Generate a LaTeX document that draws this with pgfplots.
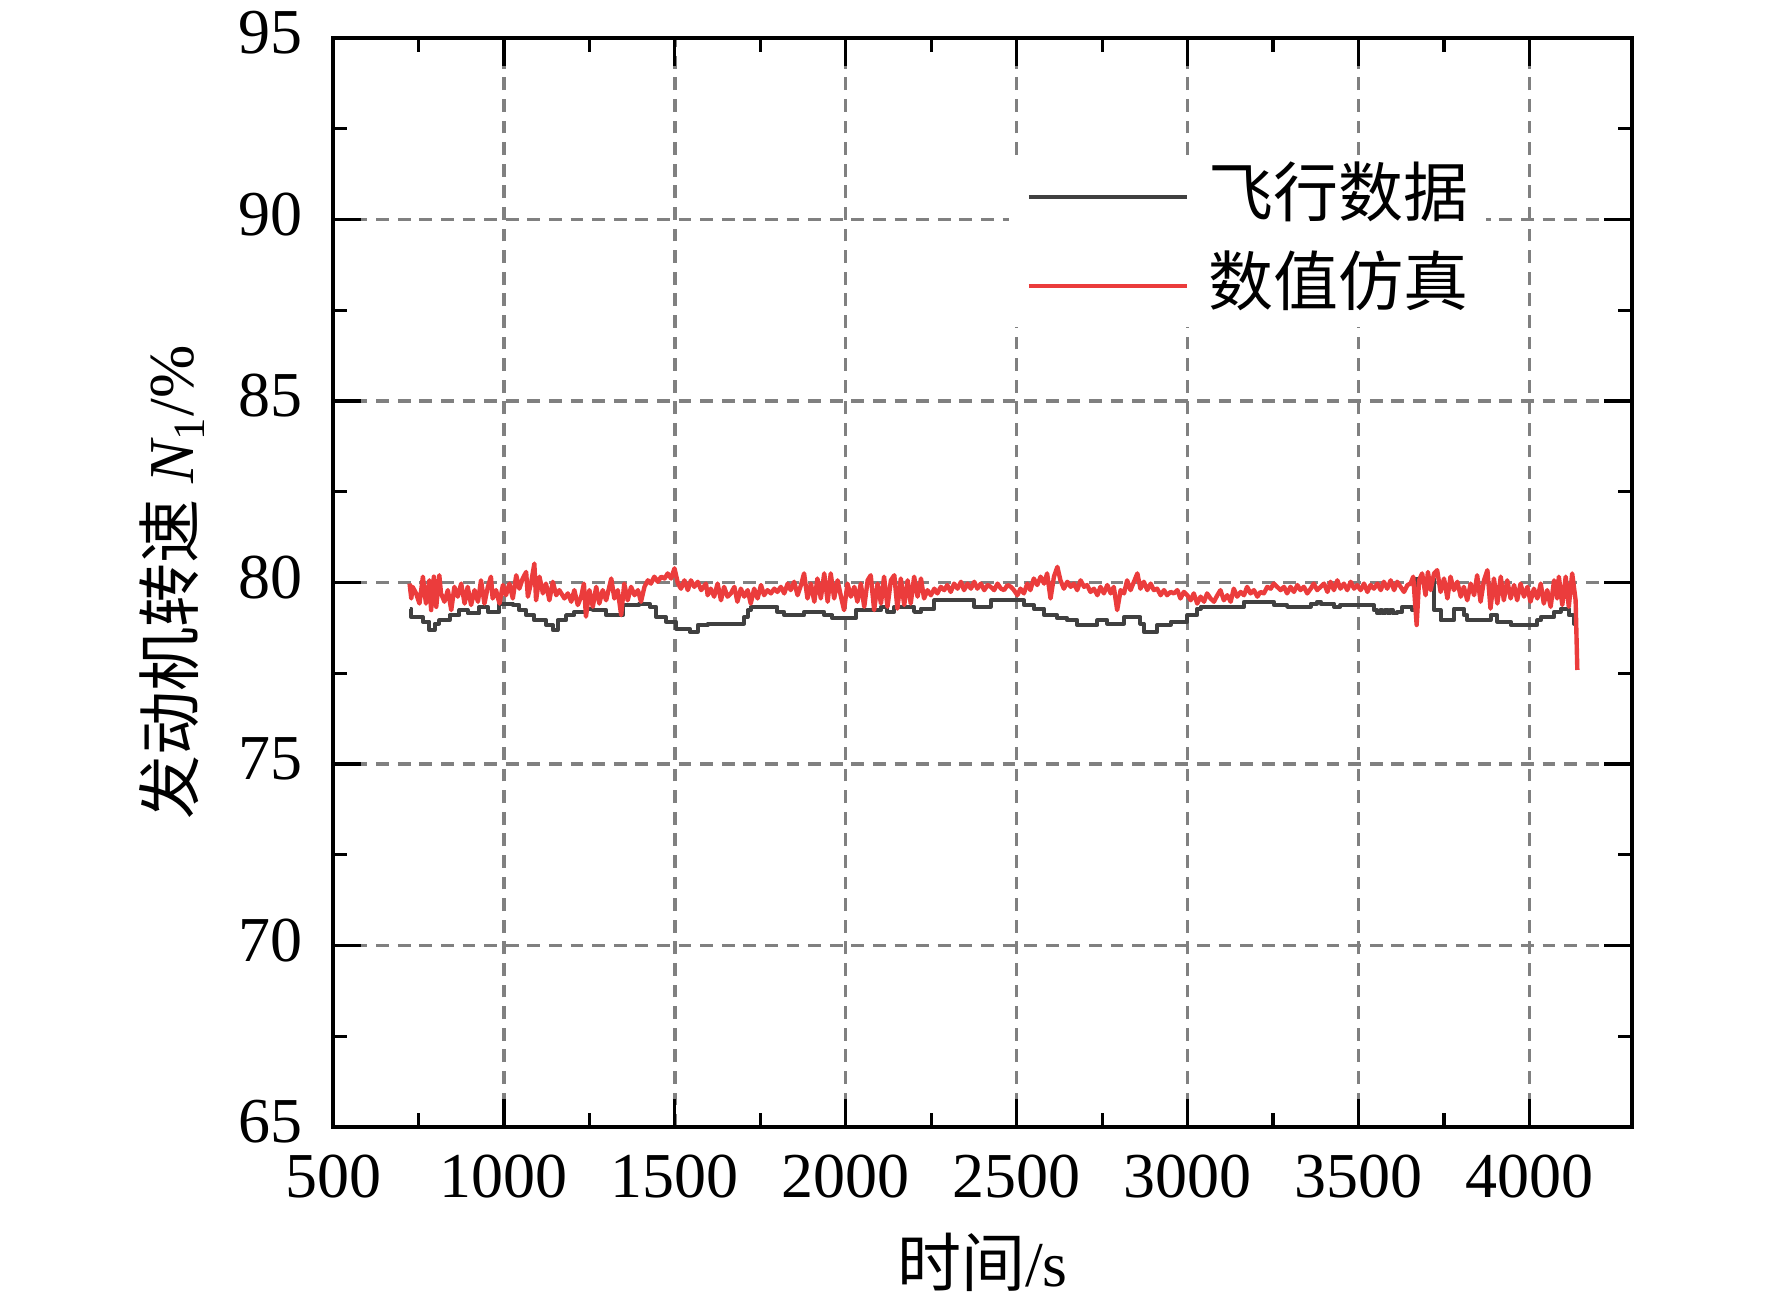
\documentclass[border=0pt]{standalone}
\usepackage{pgfplots}
\pgfplotsset{compat=1.18}
\usepackage{pgfplotstable}
\usepackage{fontspec}
\setmainfont{Liberation Serif}
\newfontfamily\cjk{Noto Sans CJK SC}
\definecolor{simred}{RGB}{235,60,60}
\definecolor{flgray}{RGB}{64,64,64}
\definecolor{gridgray}{RGB}{128,128,128}

\pgfplotstableread{
t v
724 79.28
729 79.05
763 78.92
782 78.69
797 78.87
811 78.96
841 79.10
870 79.24
894 79.15
928 79.33
953 79.19
987 79.42
1026 79.38
1045 79.24
1065 79.10
1089 78.96
1123 78.83
1143 78.69
1157 78.96
1182 79.10
1206 79.19
1240 79.28
1260 79.24
1299 79.10
1348 79.38
1396 79.42
1426 79.33
1445 79.05
1474 78.92
1504 78.73
1543 78.64
1567 78.83
1596 78.87
1703 79.05
1713 79.24
1722 79.33
1800 79.19
1820 79.10
1878 79.19
1937 79.10
1961 79.01
2029 79.24
2103 79.33
2122 79.19
2142 79.33
2200 79.19
2220 79.28
2259 79.51
2376 79.33
2424 79.51
2521 79.38
2550 79.28
2580 79.10
2619 79.01
2648 78.96
2677 78.83
2736 78.96
2765 78.87
2814 79.05
2862 78.87
2872 78.64
2911 78.83
2950 78.92
2999 79.10
3028 79.28
3038 79.33
3165 79.47
3252 79.38
3291 79.33
3360 79.42
3379 79.47
3389 79.42
3428 79.33
3447 79.38
3545 79.24
3555 79.15
3563 79.24
3570 79.15
3578 79.24
3585 79.15
3593 79.24
3600 79.15
3613 79.19
3628 79.33
3657 79.24
3667 80.11
3721 79.24
3740 78.96
3779 79.28
3808 79.10
3818 78.96
3886 79.10
3906 78.92
3945 78.83
4023 78.96
4033 79.05
4072 79.19
4091 79.28
4115 79.10
4130 78.87
4140 78.87
}\flighttab

\pgfplotstableread{
t v
724 79.97
729 79.56
733 79.88
743 79.70
753 79.42
763 80.16
767 79.79
772 79.42
782 80.06
787 79.24
795 80.16
802 79.33
811 80.20
816 79.70
826 79.47
836 79.79
846 79.24
855 79.88
865 79.61
875 79.97
885 79.42
894 79.88
904 79.38
914 79.79
924 79.47
933 80.06
943 79.42
953 79.88
962 80.16
967 79.56
977 79.79
987 79.42
997 79.93
1006 79.65
1016 79.97
1026 79.56
1036 80.20
1045 79.83
1055 80.11
1065 80.29
1070 79.61
1080 80.02
1089 80.52
1094 79.51
1104 80.16
1114 79.70
1123 79.97
1133 79.51
1143 80.02
1153 79.65
1162 79.79
1177 79.56
1187 79.70
1197 79.47
1206 79.79
1216 79.38
1226 79.61
1234 79.97
1240 79.06
1250 79.79
1260 79.33
1270 79.88
1279 79.42
1289 79.79
1299 79.51
1314 80.11
1323 79.56
1333 79.79
1343 79.10
1352 79.97
1362 79.51
1372 79.88
1382 79.65
1392 79.79
1401 79.47
1411 79.88
1421 80.06
1430 79.97
1440 80.16
1450 80.02
1460 80.16
1470 80.11
1479 80.25
1489 80.11
1499 80.39
1509 79.97
1518 79.83
1528 80.06
1538 79.79
1547 80.06
1557 79.88
1567 80.02
1577 79.79
1591 79.97
1596 79.65
1605 79.83
1615 79.61
1625 79.97
1635 79.51
1644 79.88
1654 79.61
1664 79.70
1674 79.88
1683 79.47
1693 79.83
1703 79.61
1713 79.79
1722 79.42
1732 79.83
1742 79.56
1752 79.93
1761 79.65
1771 79.79
1781 79.70
1791 79.83
1800 79.74
1810 79.88
1820 79.70
1830 79.97
1839 79.79
1849 80.02
1859 79.65
1869 79.93
1878 80.25
1888 79.56
1898 79.97
1908 79.47
1917 80.11
1927 79.56
1937 80.25
1947 79.47
1956 80.25
1966 79.56
1976 80.06
1986 79.61
1995 79.24
2005 79.97
2015 79.61
2025 79.88
2034 79.47
2044 79.97
2054 79.33
2064 80.06
2073 80.20
2083 79.24
2093 79.97
2103 79.42
2112 80.16
2122 79.33
2132 80.06
2142 80.20
2151 79.28
2161 80.11
2171 79.38
2181 80.06
2190 79.42
2200 80.16
2210 79.61
2220 80.11
2229 79.56
2239 79.79
2249 79.65
2259 79.83
2268 79.70
2278 79.88
2288 79.79
2297 79.93
2307 79.74
2317 79.97
2327 79.83
2337 80.02
2346 79.79
2356 79.97
2366 79.83
2376 80.02
2385 79.83
2395 79.97
2405 79.79
2415 79.93
2424 79.88
2434 79.79
2444 79.97
2454 79.83
2463 79.79
2473 79.93
2483 79.88
2492 79.79
2502 79.65
2511 79.83
2521 79.70
2531 79.97
2540 79.79
2550 80.11
2560 79.93
2570 80.16
2580 79.97
2589 80.25
2599 79.56
2609 80.16
2619 80.43
2628 80.06
2638 79.83
2648 80.02
2658 79.88
2667 79.97
2677 79.79
2687 80.06
2697 79.88
2706 79.93
2716 79.74
2726 79.83
2736 79.65
2745 79.88
2755 79.70
2765 79.93
2775 79.70
2784 79.88
2794 79.24
2804 79.79
2814 79.70
2823 80.06
2833 79.79
2843 80.02
2853 80.25
2862 79.83
2872 80.02
2882 79.79
2892 79.97
2901 79.79
2911 79.83
2921 79.65
2931 79.79
2940 79.65
2950 79.74
2960 79.70
2970 79.79
2979 79.56
2989 79.74
2999 79.65
3009 79.51
3018 79.70
3028 79.42
3038 79.61
3048 79.47
3057 79.70
3067 79.56
3077 79.47
3087 79.65
3096 79.79
3106 79.51
3116 79.65
3126 79.47
3135 79.83
3145 79.61
3155 79.74
3165 79.65
3174 79.88
3184 79.70
3194 79.79
3204 79.61
3213 79.74
3223 79.70
3233 79.88
3243 79.83
3252 79.97
3262 79.88
3272 79.79
3282 79.88
3291 79.70
3301 79.88
3311 79.74
3321 79.93
3330 79.79
3340 79.88
3350 79.70
3360 79.83
3369 79.97
3379 79.79
3389 79.88
3399 79.97
3409 79.74
3418 80.02
3428 79.79
3438 80.06
3447 79.83
3457 79.97
3467 79.79
3477 80.02
3487 79.83
3496 79.93
3506 79.79
3516 79.97
3526 79.74
3535 79.93
3545 79.83
3555 79.97
3565 79.79
3574 80.02
3584 79.83
3594 80.06
3604 79.79
3613 80.02
3623 79.88
3633 79.74
3643 79.93
3652 79.97
3660 80.16
3670 78.83
3677 80.06
3686 80.25
3696 79.65
3703 80.29
3711 79.79
3721 80.25
3730 80.34
3740 79.74
3750 80.11
3760 79.56
3769 80.16
3779 79.79
3789 80.02
3799 79.61
3808 79.88
3818 79.51
3828 79.97
3838 79.65
3847 80.20
3857 79.47
3867 80.06
3877 80.34
3886 79.28
3896 80.11
3906 79.42
3916 80.16
3925 79.51
3935 80.06
3945 79.56
3955 79.93
3964 79.51
3974 79.97
3984 79.61
3994 79.88
4003 79.47
4013 79.83
4023 79.56
4033 79.97
4042 79.42
4052 79.79
4062 79.33
4072 80.06
4081 79.56
4086 80.16
4096 79.38
4106 80.16
4115 79.33
4125 80.25
4135 79.51
4140 77.59
}\simtab

\begin{document}
\begin{tikzpicture}
\useasboundingbox (-83.25pt,-44.25pt) rectangle (359.75pt,281.75pt);
\begin{axis}[
  scale only axis, width=324.75pt, height=272.25pt,
  xmin=500, xmax=4300, ymin=65, ymax=95,
  xtick={500,1000,...,4000}, ytick={65,70,...,95},
  minor x tick num=1, minor y tick num=1,
  tick align=inside, tick pos=both,
  major tick length=7pt, minor tick length=3.4pt,
  every tick/.style={black, line width=0.8pt},
  axis line style={line width=1pt},
  grid=major,
  major grid style={gridgray, line width=0.85pt, dash pattern=on 3.2pt off 2.2pt},
  scaled x ticks=false,
  /pgf/number format/assume math mode=true,
  /pgf/number format/1000 sep={},
  tick label style={font=\fontsize{16}{19}\selectfont, inner sep=0pt},
  xticklabel style={anchor=north, yshift=-6.75pt},
  yticklabel style={anchor=east, xshift=-7.5pt, yshift=1.25pt},
  xlabel={{\cjk 时间}/s},
  ylabel={{\cjk 发动机转速} {\itshape N}\textsubscript{1}/\%},
  label style={font=\fontsize{16}{19}\selectfont},
  xlabel style={at={(axis description cs:0.5,-0.124)}, anchor=center},
  ylabel style={at={(axis description cs:-0.1239,0.5)}, anchor=center},
  legend style={at={(0.5196,0.8926)}, anchor=north west, draw=none, fill=white,
    inner xsep=4.5pt, inner ysep=2.25pt, column sep=4.75pt, row sep=6.25pt,
    font=\fontsize{16.25}{19}\selectfont\cjk,
    nodes={inner sep=0pt, text height=13pt, text depth=3pt}},
  legend cell align=left,
  legend image code/.code={\draw[#1] (0pt,0pt) -- (39.5pt,0pt);},
]
\addplot[const plot, flgray, line width=1pt, line join=round] table[x=t,y=v]{\flighttab};
\addlegendentry{飞行数据}
\addplot[simred, line width=1.1pt, line join=round] table[x=t,y=v]{\simtab};
\addlegendentry{数值仿真}
\end{axis}
\end{tikzpicture}
\end{document}
